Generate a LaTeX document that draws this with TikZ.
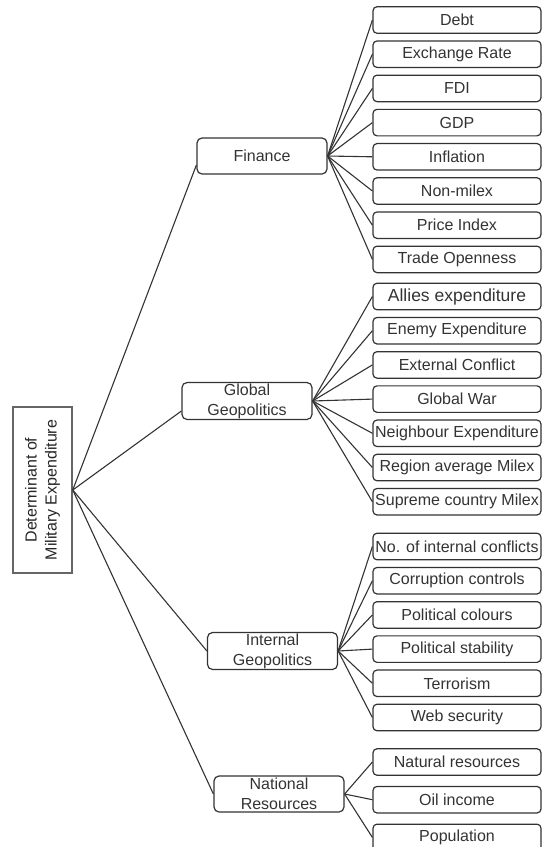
\documentclass[tikz,border=0pt]{standalone}
\usepackage{fontspec}
\setmainfont{Liberation Sans}
\usetikzlibrary{positioning}
\definecolor{inkgray}{HTML}{333333}
\tikzset{
  leaf/.style={
      rectangle, draw=inkgray, line width=1.2pt,
      minimum width=168pt, minimum height=26.5pt, inner sep=1pt,
      rounded corners=4pt, text=inkgray,
  },
  branch/.style={
      rectangle, draw=inkgray, line width=1.2pt, align=center,
      minimum width=130pt, minimum height=36pt, inner sep=1pt,
      rounded corners=5pt, text=inkgray,
  },
  rootbox/.style={
      rectangle, draw=black!60, line width=1.5pt, align=center, rotate=90,
      minimum width=166pt, minimum height=59pt, text=black!85,
  },
  line/.style={
    draw=inkgray, line width=1.1pt,
  }
}
\begin{document}
\begin{tikzpicture}[x=1pt,y=-1pt,font=\fontsize{16}{20}\selectfont]
\useasboundingbox (0,0) rectangle (542,847);
\node [rootbox] (root) at (42.5,490) {Determinant of\\Military Expenditure};
\node [branch] (fin) at (262,156) {Finance};
\node [branch] (glob) at (247,401) {Global\\Geopolitics};
\node [branch] (intl) at (272.5,651) {Internal\\Geopolitics};
\node [branch] (natl) at (279,794) {National\\Resources};

% finance
\node [leaf] (debt) at (457,20) {Debt};
\node [leaf, below=6.5pt of debt] (exch) {Exchange Rate};
\node [leaf, below=6.5pt of exch] (fdi) {FDI};
\node [leaf, below=6.5pt of fdi] (gdp) {GDP};
\node [leaf, below=6.5pt of gdp] (infl) {Inflation};
\node [leaf, below=6.5pt of infl] (nonmil) {Non-milex};
\node [leaf, below=6.5pt of nonmil] (price) {Price Index};
\node [leaf, below=6.5pt of price] (trade) {Trade Openness};

% global geopolitics
\node [leaf, font=\fontsize{17.5}{20}\selectfont] (allies) at (457,296.5) {Allies expenditure};
\node [leaf, below=6.5pt of allies] (enemy) {Enemy Expenditure};
\node [leaf, below=6.5pt of enemy] (extc) {External Conflict};
\node [leaf, below=6.5pt of extc] (war) {Global War};
\node [leaf, below=6.5pt of war] (neigh) {Neighbour Expenditure};
\node [leaf, below=6.5pt of neigh] (region) {Region average Milex};
\node [leaf, below=6.5pt of region] (supreme) {Supreme country Milex};

% internal geopolitics
\node [leaf] (intc) at (457,546.5) {No. of internal conflicts};
\node [leaf, below=6.5pt of intc] (corr) {Corruption controls};
\node [leaf, below=6.5pt of corr] (colours) {Political colours};
\node [leaf, below=6.5pt of colours] (stab) {Political stability};
\node [leaf, below=6.5pt of stab] (terror) {Terrorism};
\node [leaf, below=6.5pt of terror] (web) {Web security};

% national resources
\node [leaf] (natres) at (457,762) {Natural resources};
\node [leaf, below=10pt of natres] (oil) {Oil income};
\node [leaf, below=10pt of oil] (pop) {Population};

\draw [line] (root.south) -- ([yshift=-9pt]fin.west);
\draw [line] (root.south) -- ([yshift=-10pt]glob.west);
\draw [line] (root.south) -- (intl.west);
\draw [line] (root.south) -- (natl.west);

\draw [line] (fin.east) -- (debt.west);
\draw [line] (fin.east) -- (exch.west);
\draw [line] (fin.east) -- (fdi.west);
\draw [line] (fin.east) -- (gdp.west);
\draw [line] (fin.east) -- (infl.west);
\draw [line] (fin.east) -- (nonmil.west);
\draw [line] (fin.east) -- (price.west);
\draw [line] (fin.east) -- (trade.west);

\draw [line] (glob.east) -- (allies.west);
\draw [line] (glob.east) -- (enemy.west);
\draw [line] (glob.east) -- (extc.west);
\draw [line] (glob.east) -- (war.west);
\draw [line] (glob.east) -- (neigh.west);
\draw [line] (glob.east) -- (region.west);
\draw [line] (glob.east) -- (supreme.west);

\draw [line] (intl.east) -- (intc.west);
\draw [line] (intl.east) -- (corr.west);
\draw [line] (intl.east) -- (colours.west);
\draw [line] (intl.east) -- (stab.west);
\draw [line] (intl.east) -- (terror.west);
\draw [line] (intl.east) -- (web.west);

\draw [line] (natl.east) -- (natres.west);
\draw [line] (natl.east) -- (oil.west);
\draw [line] (natl.east) -- (pop.west);
\end{tikzpicture}
\end{document}
